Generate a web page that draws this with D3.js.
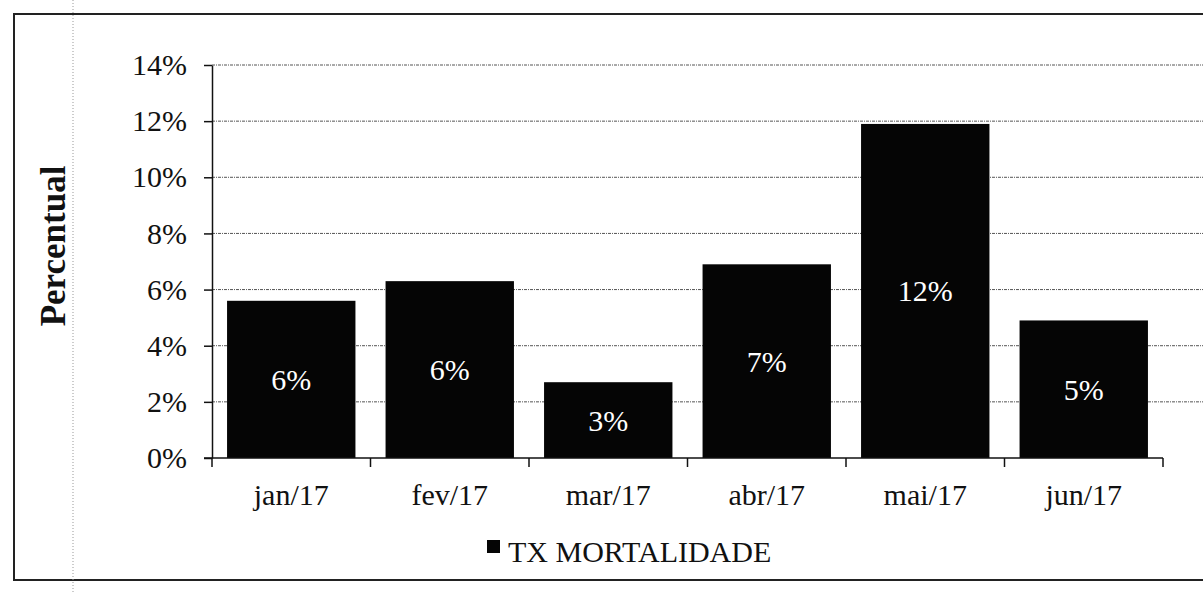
<!DOCTYPE html>
<html>
<head>
<meta charset="utf-8">
<script src="https://cdn.jsdelivr.net/npm/d3@7"></script>
<style>
  html, body { margin: 0; padding: 0; background: #fff; }
  svg { display: block; }
  svg text { font-family: "Liberation Serif", "DejaVu Serif", serif; }
</style>
</head>
<body>
<svg id="chart"></svg>
<script>
const months = ['jan/17', 'fev/17', 'mar/17', 'abr/17', 'mai/17', 'jun/17']
const mortalidade = [5.6, 6.3, 2.7, 6.9, 11.9, 4.9]
const barLabels = ['6%', '6%', '3%', '7%', '12%', '5%']
const yTicks = [0, 2, 4, 6, 8, 10, 12, 14]
const seriesName = 'TX MORTALIDADE'

const width = 1203
const height = 594
const margin = {top: 65, right: 40, bottom: 136, left: 212}
const serif = '"Liberation Serif", serif'
const fontSize = 30

const svg = d3.select('#chart')
    .attr('width', width)
    .attr('height', height)

// outer frame (right side runs off the page)
svg.append('path')
    .attr('d', `M${width + 5},14 H14 V580 H${width + 5}`)
    .attr('fill', 'none')
    .attr('stroke', '#222')
    .attr('stroke-width', 2)

// faint margin line from the scan
svg.append('line')
    .attr('x1', 73).attr('x2', 73)
    .attr('y1', 0).attr('y2', height)
    .attr('stroke', '#999')
    .attr('stroke-width', 1)
    .attr('stroke-dasharray', '1,2')

const x = d3.scaleBand()
    .domain(months)
    .range([margin.left, 1163])
    .paddingInner(0.19)
    .paddingOuter(0.095)

const y = d3.scaleLinear()
    .domain([0, 14])
    .range([height - margin.bottom, margin.top])

// grid
svg.append('g')
    .selectAll('line')
    .data(yTicks.filter(d => d > 0))
    .join('line')
        .attr('x1', margin.left)
        .attr('x2', width)
        .attr('y1', d => y(d))
        .attr('y2', d => y(d))
        .attr('stroke', '#555')
        .attr('stroke-width', 1)
        .attr('stroke-dasharray', '3,1,1,1')

// bars
svg.append('g')
    .selectAll('rect')
    .data(mortalidade)
    .join('rect')
        .attr('x', (d, i) => x(months[i]))
        .attr('y', d => y(d))
        .attr('width', x.bandwidth())
        .attr('height', d => y(0) - y(d))
        .attr('fill', '#050505')

// bar labels
svg.append('g')
    .selectAll('text')
    .data(mortalidade)
    .join('text')
        .attr('x', (d, i) => x(months[i]) + x.bandwidth() / 2)
        .attr('y', d => (y(d) + y(0)) / 2)
        .attr('dy', '0.35em')
        .attr('text-anchor', 'middle')
        .attr('fill', '#fff')
        .attr('font-family', serif)
        .attr('font-size', fontSize)
        .text((d, i) => barLabels[i])

// y-axis
svg.append('g')
    .attr('transform', `translate(${margin.left}, 0)`)
    .call(d3.axisLeft(y).tickValues(yTicks).tickFormat(d => d + '%').tickSize(8).tickSizeOuter(0).tickPadding(17))
    .call(g => g.select('.domain').attr('stroke', '#111').attr('stroke-width', 1.5))
    .call(g => g.selectAll('.tick line').attr('stroke', '#111').attr('stroke-width', 1.5))
    .call(g => g.selectAll('.tick text')
        .attr('font-size', fontSize)
        .attr('font-family', serif)
        .attr('fill', '#111'))

// x-axis, ticks sit between categories
const xAxis = svg.append('g')
    .attr('transform', `translate(0, ${y(0)})`)

xAxis.append('line')
    .attr('x1', margin.left - 8)
    .attr('x2', 1163)
    .attr('stroke', '#111')
    .attr('stroke-width', 1.5)

xAxis.selectAll('.sep')
    .data(d3.range(months.length + 1))
    .join('line')
        .attr('class', 'sep')
        .attr('x1', i => margin.left + i * (1163 - margin.left) / months.length)
        .attr('x2', i => margin.left + i * (1163 - margin.left) / months.length)
        .attr('y1', 0)
        .attr('y2', 9)
        .attr('stroke', '#111')
        .attr('stroke-width', 1.5)

xAxis.selectAll('.lbl')
    .data(months)
    .join('text')
        .attr('class', 'lbl')
        .attr('x', d => x(d) + x.bandwidth() / 2)
        .attr('y', 47)
        .attr('text-anchor', 'middle')
        .attr('font-family', serif)
        .attr('font-size', fontSize)
        .attr('fill', '#111')
        .text(d => d)

// y-axis title
svg.append('text')
    .attr('transform', 'translate(65, 246) rotate(-90)')
    .attr('text-anchor', 'middle')
    .attr('font-family', serif)
    .attr('font-size', 35)
    .attr('font-weight', 'bold')
    .attr('fill', '#111')
    .text('Percentual')

// legend
const legend = svg.append('g')
    .attr('transform', 'translate(487, 540)')

legend.append('rect')
    .attr('width', 13)
    .attr('height', 13)
    .attr('fill', '#050505')

legend.append('text')
    .attr('x', 21)
    .attr('y', 22)
    .attr('font-family', serif)
    .attr('font-size', fontSize)
    .attr('fill', '#111')
    .text(seriesName)
</script>
</body>
</html>
